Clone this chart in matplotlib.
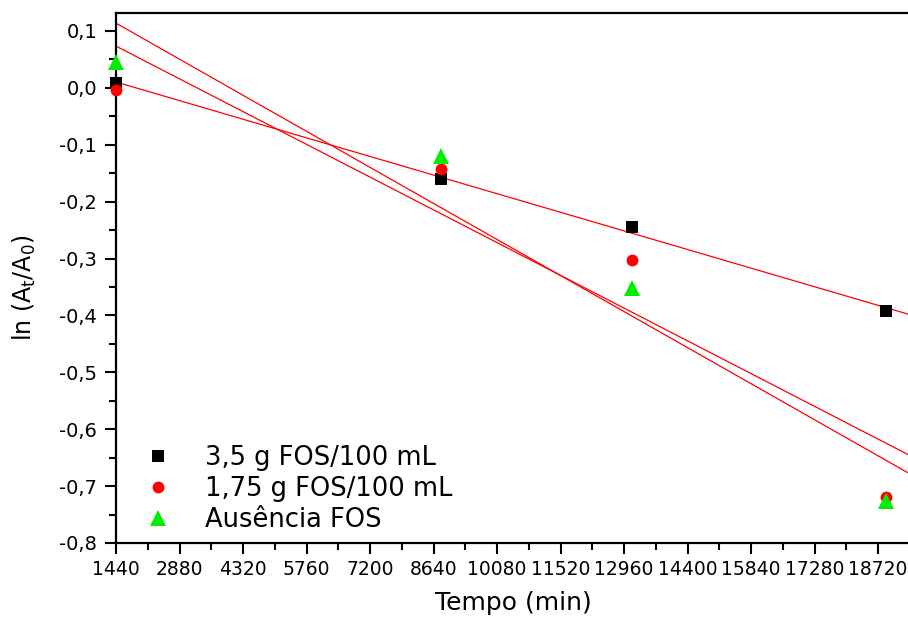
import numpy as np
import matplotlib
matplotlib.use("Agg")
import matplotlib.pyplot as plt
from matplotlib.ticker import MultipleLocator, FuncFormatter

plt.rcParams['font.family'] = ['DejaVu Sans']
plt.rcParams['mathtext.fontset'] = 'dejavusans'

# Time points (min) and ln(At/A0) for each FOS concentration
tempo = [1440, 8810, 13140, 18900]
fos_35 = [0.008, -0.160, -0.244, -0.393]
fos_175 = [-0.003, -0.142, -0.302, -0.720]
sem_fos = [0.045, -0.120, -0.352, -0.726]

labels = ["3,5 g FOS/100 mL", "1,75 g FOS/100 mL", "Ausência FOS"]
x_ticks = [1440, 2880, 4320, 5760, 7200, 8640, 10080, 11520, 12960,
           14400, 15840, 17280, 18720]

fig = plt.figure(figsize=(9.08, 6.18), dpi=100)
ax = fig.add_axes([0.1278, 0.1214, 0.882, 0.858])

xmin, xmax = 1440, 19600
ax.set_xlim(xmin, xmax)
ax.set_ylim(-0.8, 0.132)

series = [
    (fos_35, 's', 'black', 8),
    (fos_175, 'o', 'red', 8.5),
    (sem_fos, '^', '#00ee00', 11.5),
]
xs = np.array(tempo, dtype=float)
xfit = np.array([xmin, xmax])
for (vals, mk, col, ms), lab in zip(series, labels):
    ax.plot(tempo, vals, linestyle='none', marker=mk, color=col,
            markersize=ms, markeredgewidth=0, label=lab, zorder=3, clip_on=False)
    # linear regression of each series
    slope, icpt = np.polyfit(xs, np.array(vals), 1)
    ax.plot(xfit, slope * xfit + icpt, color='red', linewidth=0.9, zorder=2)

ax.set_xticks(x_ticks)
ax.xaxis.set_minor_locator(MultipleLocator(720))
ax.yaxis.set_major_locator(MultipleLocator(0.1))
ax.yaxis.set_minor_locator(MultipleLocator(0.05))
ax.yaxis.set_major_formatter(FuncFormatter(
    lambda v, p: f"{v:.1f}".replace('.', ',').replace('-0,0', '0,0')))
ax.xaxis.set_major_formatter(FuncFormatter(lambda v, p: f"{int(round(v))}"))

for s in ax.spines.values():
    s.set_linewidth(1.6)
ax.tick_params(which='major', direction='out', length=8, width=1.5,
               labelsize=13.5, top=False, right=False)
ax.tick_params(axis='y', which='major', pad=5.5, labelsize=14)
ax.tick_params(axis='x', which='major', pad=4)
ax.tick_params(which='minor', direction='out', length=5, width=1.5,
               top=False, right=False)

ax.set_xlabel("Tempo (min)", fontsize=18)
ax.set_ylabel(r"ln (A$_\mathrm{t}$/A$_\mathrm{0}$)", fontsize=17)
ax.xaxis.set_label_coords(0.496, -0.090)
ax.yaxis.set_label_coords(-0.097, 0.481)

ax.legend(loc='center left', bbox_to_anchor=(0.1597, 0.2087),
          bbox_transform=fig.transFigure, frameon=False,
          fontsize=18.5, handletextpad=1.35, labelspacing=0.2,
          borderaxespad=0, borderpad=0, handlelength=1.0)

fig.savefig("out.png", dpi=100)
